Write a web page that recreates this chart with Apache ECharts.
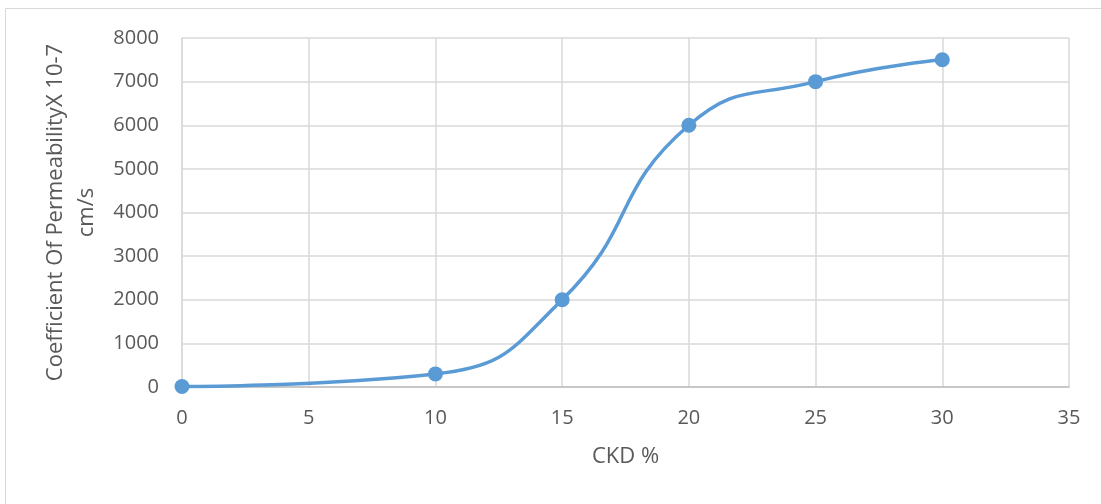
<!DOCTYPE html>
<html><head><meta charset="utf-8">
<script src="https://cdn.jsdelivr.net/npm/echarts@6/dist/echarts.min.js"></script>
<style>html,body{margin:0;padding:0;background:#fff}#c{width:1101px;height:504px}</style>
</head><body><div id="c"></div>
<script>
const ckd = [0, 10, 15, 20, 25, 30];
const permeability = [10, 300, 2000, 6000, 7000, 7500];
const xTitle = 'CKD %';
const yTitle = 'Coefficient Of PermeabilityX 10-7\ncm/s';
const chart = echarts.init(document.getElementById('c'));
const font = '"Open Sans", "Liberation Sans", sans-serif';
chart.setOption({
  animation: false,
  graphic: [{type:'rect', shape:{x:5.5,y:8.5,width:1200,height:600}, style:{fill:'none', stroke:'#d9d9d9', lineWidth:1}}],
  grid: {left:182, right:32, top:38, bottom:117, containLabel:false, outerBoundsMode:'none'},
  xAxis: {type:'value', min:0, max:35, interval:5,
    name:xTitle, nameLocation:'middle', nameGap:59,
    nameTextStyle:{color:'#595959', fontSize:22, fontFamily:font},
    axisLine:{show:true, lineStyle:{color:'#bfbfbf', width:1.5}}, axisTick:{show:false},
    axisLabel:{color:'#595959', fontSize:20, fontFamily:font, margin:21},
    splitLine:{show:true, lineStyle:{color:'#d9d9d9', width:1.5}}},
  yAxis: {type:'value', min:0, max:8000, interval:1000,
    name:yTitle, nameLocation:'middle', nameGap:80, nameRotate:90,
    nameTextStyle:{color:'#595959', fontSize:22, fontFamily:font, lineHeight:31},
    axisLine:{show:true, lineStyle:{color:'#d9d9d9', width:1.5}}, axisTick:{show:false},
    axisLabel:{color:'#595959', fontSize:20, fontFamily:font, margin:23, formatter: v => String(v)},
    splitLine:{show:true, lineStyle:{color:'#d9d9d9', width:1.5}}},
  series: [{type:'line', data: ckd.map((x,i)=>[x, permeability[i]]), smooth:0.5,
    symbol:'circle', symbolSize:15, lineStyle:{color:'#5b9bd5', width:3.5},
    itemStyle:{color:'#5b9bd5'}}]
});
</script></body></html>
